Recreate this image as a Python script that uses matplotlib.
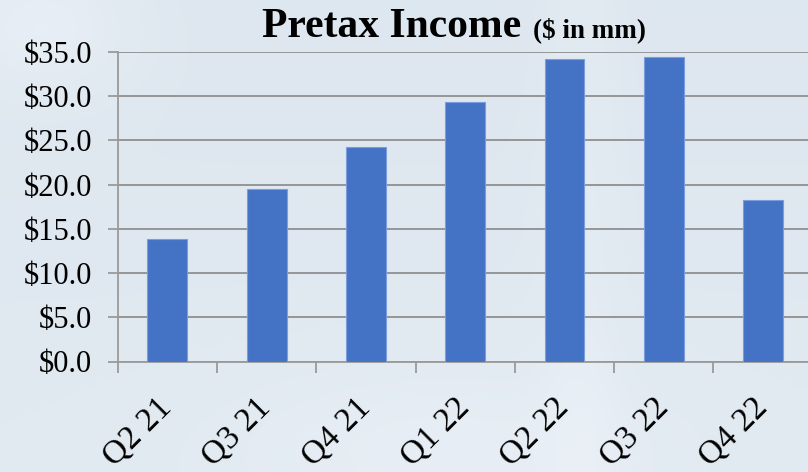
import numpy as np
import matplotlib
matplotlib.use("Agg")
import matplotlib.pyplot as plt
from matplotlib.transforms import ScaledTranslation

categories = ["Q2 21", "Q3 21", "Q4 21", "Q1 22", "Q2 22", "Q3 22", "Q4 22"]
pretax_income = [13.8, 19.5, 24.3, 29.4, 34.2, 34.4, 18.3]
y_ticks = [0, 5, 10, 15, 20, 25, 30, 35]
y_tick_labels = ["$%.1f" % v for v in y_ticks]

plt.rcParams["font.family"] = ["Liberation Serif", "DejaVu Serif"]

W, H = 808, 472
fig = plt.figure(figsize=(W / 100, H / 100), dpi=100)

# soft light-blue background
bg = fig.add_axes([0, 0, 1, 1], zorder=-10)
yy, xx = np.mgrid[0:1:200j, 0:1:340j]
base = np.array([0.870, 0.906, 0.938])
light = np.array([0.935, 0.955, 0.975])
w = 0.25 * np.exp(-((xx - 0.72) / 0.05) ** 2) \
    + 0.55 * np.exp(-(((xx - 0.05) / 0.12) ** 2 + ((yy - 0.05) / 0.15) ** 2)) \
    + 0.35 * np.exp(-(((xx - 0.55) / 0.3) ** 2 + ((yy - 0.95) / 0.2) ** 2)) \
    + 0.2 * yy
w = np.clip(w, 0, 1)
img = base[None, None, :] * (1 - w[..., None]) + light[None, None, :] * w[..., None]
bg.imshow(img, aspect="auto", extent=[0, 1, 1, 0], interpolation="bilinear")
bg.set_axis_off()

ax = fig.add_axes([117.7 / W, 110.5 / H, 695.1 / W, 309.5 / H])
ax.patch.set_alpha(0)
x = np.arange(len(categories))
ax.bar(x, pretax_income, width=0.4, color="#4472C4", edgecolor="#7b9de0",
       linewidth=0.8, zorder=3)

ax.set_xlim(-0.5, len(categories) - 0.5)
ax.set_ylim(0, 35)
ax.set_yticks(y_ticks)
ax.set_yticklabels(y_tick_labels, fontsize=22)
ax.yaxis.grid(True, color="#8f8f8f", linewidth=1.3, zorder=1)
ax.set_axisbelow(True)

ax.set_xticks(x)
ax.set_xticklabels(categories, fontsize=24, rotation=45, ha="right",
                   va="top", rotation_mode="anchor")
ax.set_xticks(np.arange(-0.5, len(categories) + 0.5, 1), minor=True)
ax.tick_params(axis="x", which="major", length=0, pad=22.5)
ax.tick_params(axis="x", which="minor", length=8, width=1.3, color="#9a9a9a")
ax.tick_params(axis="y", length=7.5, width=1.3, color="#9a9a9a", pad=11)
for lbl in ax.get_xticklabels():
    lbl.set_transform(lbl.get_transform() + ScaledTranslation(-0.11, 0, fig.dpi_scale_trans))

for s in ["top", "right"]:
    ax.spines[s].set_visible(False)
ax.spines["left"].set_color("#9a9a9a")
ax.spines["left"].set_linewidth(1.3)
ax.spines["bottom"].set_color("#9a9a9a")
ax.spines["bottom"].set_linewidth(1.3)

fig.text(262 / W, 1 - 37 / H, "Pretax Income", fontsize=30, fontweight="bold",
         ha="left", va="baseline")
fig.text(533 / W, 1 - 37 / H, "($ in mm)", fontsize=19.5, fontweight="bold",
         ha="left", va="baseline")

fig.savefig("out.png", dpi=100)
